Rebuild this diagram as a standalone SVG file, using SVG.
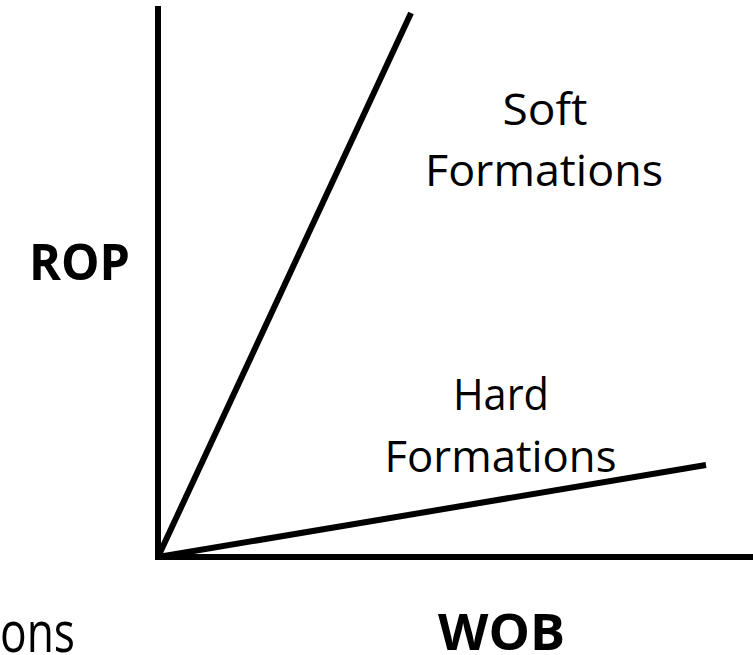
<svg xmlns="http://www.w3.org/2000/svg" width="753" height="655" viewBox="0 0 753 655">
<style>
.ax{stroke:#000;stroke-width:6;fill:none}
.t{font-family:"Open Sans","Noto Sans",sans-serif;font-size:44px;fill:#000}
.b{font-family:"Open Sans","Noto Sans",sans-serif;font-size:51px;font-weight:bold;fill:#000}
</style>
<rect width="753" height="655" fill="#fff"/>
<g id="axes">
<line class="ax" x1="158" y1="6" x2="158" y2="560"/>
<line class="ax" x1="155" y1="557" x2="753" y2="557"/>
</g>
<g id="connectors">
<line class="ax" x1="158" y1="557" x2="411" y2="13"/>
<line class="ax" x1="158" y1="557" x2="706" y2="465"/>
</g>
<g id="soft">
<text class="t" x="545" y="125" text-anchor="middle" textLength="85" lengthAdjust="spacingAndGlyphs">Soft</text>
<text class="t" x="544" y="186" text-anchor="middle" textLength="238" lengthAdjust="spacingAndGlyphs">Formations</text>
</g>
<g id="hard">
<text class="t" x="501" y="410" text-anchor="middle" textLength="96" lengthAdjust="spacingAndGlyphs">Hard</text>
<text class="t" x="500.5" y="472" text-anchor="middle" textLength="232" lengthAdjust="spacingAndGlyphs">Formations</text>
</g>
<g id="rop"><text class="b" x="79.5" y="280" text-anchor="middle" textLength="101" lengthAdjust="spacingAndGlyphs">ROP</text></g>
<g id="wob"><text class="b" x="501.5" y="650" text-anchor="middle" textLength="127" lengthAdjust="spacingAndGlyphs">WOB</text></g>
<g id="cut"><text class="t" x="0" y="652" style="font-size:56px" textLength="75" lengthAdjust="spacingAndGlyphs">ons</text></g>
</svg>
